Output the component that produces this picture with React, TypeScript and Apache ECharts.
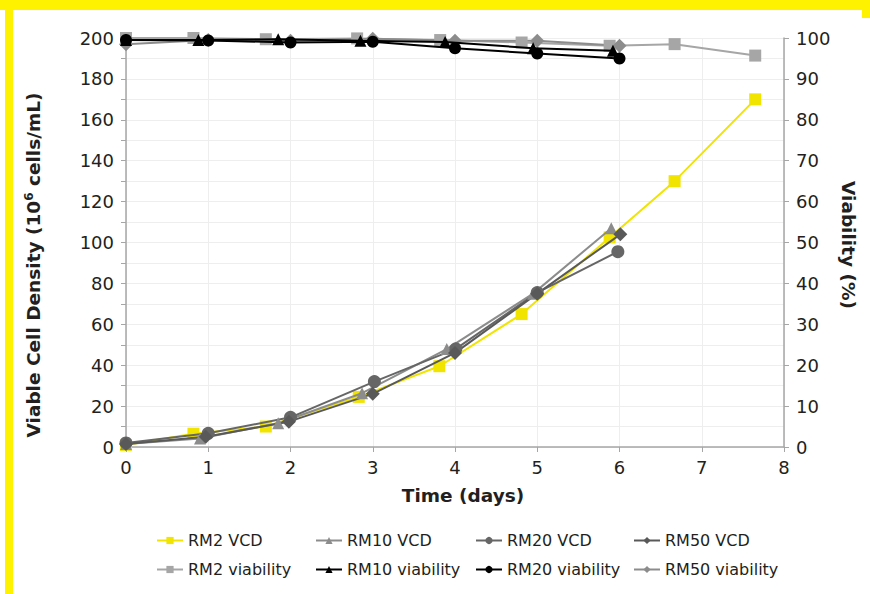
import React, { useEffect, useRef } from "react";
import * as echarts from "echarts";

// Data (x = day, y = value)
const rm2VCD: [number, number][] = [[0, 1], [0.82, 6.5], [1.7, 10], [2.83, 24.5], [3.81, 39.5], [4.81, 65], [5.88, 102.5], [6.67, 130], [7.65, 170]];
const rm10VCD: [number, number][] = [[0, 1.5], [0.9, 4.2], [1.85, 11.6], [2.87, 26.3], [3.9, 47.9], [4.95, 75], [5.9, 107]];
const rm20VCD: [number, number][] = [[0, 2], [1, 6.7], [2, 14.5], [3.02, 32], [4.01, 48], [5, 75.5], [5.98, 95.5]];
const rm50VCD: [number, number][] = [[0, 1.5], [0.97, 5], [1.98, 12.4], [3, 26], [4, 46], [5, 75], [6.01, 104]];

const rm2Via: [number, number][] = [[0, 100], [0.82, 100], [1.7, 99.7], [2.81, 99.9], [3.82, 99.5], [4.81, 98.9], [5.88, 98.1], [6.67, 98.5], [7.65, 95.7]];
const rm10Via: [number, number][] = [[0, 99.5], [0.88, 99.5], [1.85, 99.7], [2.85, 99.3], [3.88, 99], [4.95, 97.5], [5.92, 96.9]];
const rm20Via: [number, number][] = [[0, 99.5], [1, 99.4], [2, 98.9], [3, 99.1], [4, 97.5], [5, 96.2], [6, 95]];
const rm50Via: [number, number][] = [[0, 98.5], [1, 99.5], [2, 99.3], [3, 99.8], [4, 99.3], [5, 99.3], [6, 98.1]];

const FONT = "'DejaVu Sans', 'Open Sans', sans-serif";
const TXT = "#231f20";

export default function App() {
  const ref = useRef<HTMLDivElement>(null);
  useEffect(() => {
    if (!ref.current) return;
    const chart = echarts.init(ref.current, null, { renderer: "svg" });
    const mk = (name: string, data: [number, number][], color: string, symbol: string, size: number, yIdx: number, z: number) => ({
      name,
      type: "line",
      data,
      yAxisIndex: yIdx,
      symbol,
      symbolSize: size,
      z,
      lineStyle: { color, width: 2 },
      itemStyle: { color, borderWidth: 0 },
      emphasis: { disabled: true },
    });
    const legendBase = {
      orient: "vertical",
      top: 531,
      padding: 0,
      itemWidth: 26,
      itemHeight: 9,
      itemGap: 10,
      textStyle: { fontFamily: FONT, fontSize: 16, color: TXT, lineHeight: 19 },
      selectedMode: false,
    };
    chart.setOption({
      animation: false,
      textStyle: { fontFamily: FONT },
      grid: { left: 126, right: 86, top: 38, bottom: 147, containLabel: false },
      xAxis: {
        type: "value",
        min: 0,
        max: 8,
        interval: 1,
        axisLine: { show: true, lineStyle: { color: "#a6a6a6", width: 1.5 } },
        axisTick: { show: true, length: 5, lineStyle: { color: "#a6a6a6" } },
        axisLabel: { fontFamily: FONT, fontSize: 18, color: TXT, margin: 11 },
        splitLine: { show: true, lineStyle: { color: "#eeeeee", width: 1 } },
      },
      yAxis: [
        {
          type: "value",
          min: 0,
          max: 200,
          interval: 10,
          axisLine: { show: true, lineStyle: { color: "#a6a6a6", width: 1.5 } },
          axisTick: { show: true, length: 5, lineStyle: { color: "#a6a6a6" } },
          axisLabel: {
            fontFamily: FONT,
            fontSize: 18,
            color: TXT,
            margin: 12,
            formatter: (v: number) => (v % 20 === 0 ? String(v) : ""),
          },
          splitLine: { show: true, lineStyle: { color: "#eeeeee", width: 1 } },
        },
        {
          type: "value",
          min: 0,
          max: 100,
          interval: 10,
          position: "right",
          axisLine: { show: true, lineStyle: { color: "#a6a6a6", width: 1.5 } },
          axisTick: { show: true, length: 5, lineStyle: { color: "#a6a6a6" } },
          axisLabel: { fontFamily: FONT, fontSize: 18, color: TXT, margin: 12 },
          splitLine: { show: false },
        },
      ],
      legend: [
        { ...legendBase, left: 156, data: ["RM2 VCD", "RM2 viability"] },
        { ...legendBase, left: 315, data: ["RM10 VCD", "RM10 viability"] },
        { ...legendBase, left: 475, data: ["RM20 VCD", "RM20 viability"] },
        { ...legendBase, left: 633, data: ["RM50 VCD", "RM50 viability"] },
      ],
      graphic: [
        { type: "rect", left: 0, top: 0, shape: { width: 870, height: 10 }, style: { fill: "#fff200" }, silent: true },
        { type: "rect", left: 5, top: 0, shape: { width: 8, height: 594 }, style: { fill: "#fff200" }, silent: true },
        { type: "rect", left: 862, top: 0, shape: { width: 8, height: 18 }, style: { fill: "#fff200" }, silent: true },
        {
          type: "text",
          x: 33,
          y: 265,
          rotation: Math.PI / 2,
          style: {
            text: "Viable Cell Density (10{sup|6} cells/mL)",
            fontFamily: FONT,
            fontSize: 18.5,
            fontWeight: "bold",
            fill: TXT,
            align: "center",
            verticalAlign: "middle",
            rich: {
              sup: { fontFamily: FONT, fontSize: 12, fontWeight: "bold", fill: TXT, padding: [0, 0, 9, 0] },
            },
          },
        },
        {
          type: "text",
          x: 848,
          y: 245,
          rotation: -Math.PI / 2,
          style: { text: "Viability (%)", fontFamily: FONT, fontSize: 18.5, fontWeight: "bold", fill: TXT, align: "center", verticalAlign: "middle" },
        },
        {
          type: "text",
          x: 463,
          y: 495,
          style: { text: "Time (days)", fontFamily: FONT, fontSize: 18.5, fontWeight: "bold", fill: TXT, align: "center", verticalAlign: "middle" },
        },
      ],
      series: [
        mk("RM2 viability", rm2Via, "#a6a6a6", "rect", 12, 1, 2),
        mk("RM50 viability", rm50Via, "#8c8c8c", "diamond", 14, 1, 2),
        mk("RM10 viability", rm10Via, "#000000", "triangle", 12, 1, 3),
        mk("RM20 viability", rm20Via, "#000000", "circle", 12, 1, 3),
        mk("RM2 VCD", rm2VCD, "#f0e400", "rect", 12, 0, 2),
        mk("RM10 VCD", rm10VCD, "#8c8c8c", "triangle", 12, 0, 3),
        mk("RM20 VCD", rm20VCD, "#666666", "circle", 13, 0, 3),
        mk("RM50 VCD", rm50VCD, "#595959", "diamond", 14, 0, 3),
      ],
    });
    return () => chart.dispose();
  }, []);
  return <div ref={ref} style={{ position: "absolute", left: 0, top: 0, width: 870, height: 594 }} />;
}
